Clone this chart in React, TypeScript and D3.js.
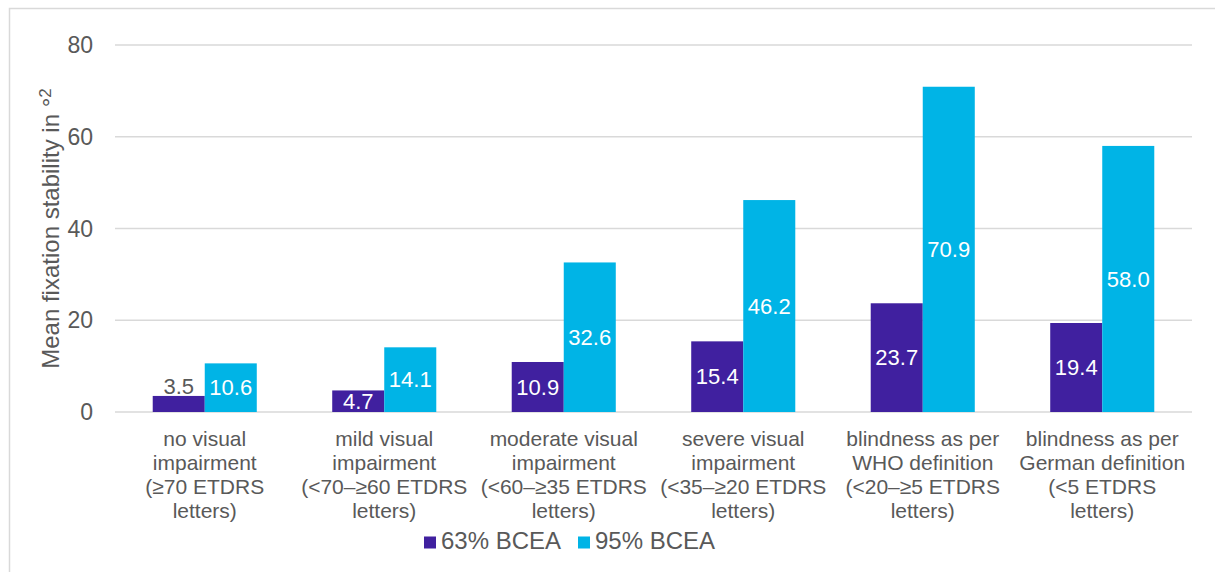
import React from "react";
import * as d3 from "d3";

const categories: string[][] = [
  ["no visual", "impairment", "(≥70 ETDRS", "letters)"],
  ["mild visual", "impairment", "(<70–≥60 ETDRS", "letters)"],
  ["moderate visual", "impairment", "(<60–≥35 ETDRS", "letters)"],
  ["severe visual", "impairment", "(<35–≥20 ETDRS", "letters)"],
  ["blindness as per", "WHO definition", "(<20–≥5 ETDRS", "letters)"],
  ["blindness as per", "German definition", "(<5 ETDRS", "letters)"],
];
const bcea63: number[] = [3.5, 4.7, 10.9, 15.4, 23.7, 19.4];
const bcea95: number[] = [10.6, 14.1, 32.6, 46.2, 70.9, 58.0];
const seriesNames: string[] = ["63% BCEA", "95% BCEA"];
const yTicks: number[] = [0, 20, 40, 60, 80];

const W = 1215;
const H = 572;
const FONT = "'Liberation Sans', Arial, sans-serif";
const TEXT = "#595959";
const GRID = "#D9D9D9";
const COLORS = ["#40209F", "#00B4E6"];

export default function App() {
  const left = 115;
  const right = 1192;
  const top = 45;
  const bottom = 412;

  const x = d3
    .scaleBand<number>()
    .domain(categories.map((_, i) => i))
    .range([left, right])
    .paddingInner(0)
    .paddingOuter(0);
  const y = d3.scaleLinear().domain([0, 80]).range([bottom, top]);

  const bw = x.bandwidth();
  const barW = bw / (2 + 1.45);
  const series = [bcea63, bcea95];

  return (
    <svg
      width={W}
      height={H}
      style={{ position: "absolute", left: 0, top: 0, background: "#fff" }}
      fontFamily={FONT}
    >
      <rect x={9.5} y={8.5} width={W + 10} height={H + 10} fill="#fff" stroke={GRID} strokeWidth={1.5} />

      {yTicks.map((t) => (
        <g key={t}>
          <line x1={left} x2={right} y1={y(t)} y2={y(t)} stroke={GRID} strokeWidth={1.5} />
          <text x={93} y={y(t)} dy="0.35em" textAnchor="end" fontSize={23} fill={TEXT}>
            {t}
          </text>
        </g>
      ))}

      <text
        transform={`translate(59, ${(top + bottom) / 2}) rotate(-90)`}
        textAnchor="middle"
        fontSize={24}
        fill={TEXT}
      >
        Mean fixation stability in °<tspan dy={-8} fontSize={17}>2</tspan>
      </text>

      {categories.map((_, i) => {
        const c = (x(i) as number) + bw / 2;
        return series.map((vals, s) => {
          const v = vals[i];
          const bx = c - barW + s * barW;
          const by = y(v);
          const h = y(0) - by;
          const inside = h >= 19;
          return (
            <g key={`${i}-${s}`}>
              <rect x={bx} y={by} width={barW} height={h} fill={COLORS[s]} />
              <text
                x={bx + barW / 2}
                y={inside ? by + h / 2 : by - 2}
                dy={inside ? "0.35em" : "0"}
                textAnchor="middle"
                fontSize={22}
                fill={inside ? "#fff" : TEXT}
              >
                {v.toFixed(1)}
              </text>
            </g>
          );
        });
      })}

      {categories.map((lines, i) => {
        const c = (x(i) as number) + bw / 2;
        return (
          <text key={i} textAnchor="middle" fontSize={21} fill={TEXT}>
            {lines.map((ln, k) => (
              <tspan key={k} x={c} y={446 + k * 24}>
                {ln}
              </tspan>
            ))}
          </text>
        );
      })}

      {seriesNames.map((name, s) => {
        const lx = s === 0 ? 424 : 578;
        return (
          <g key={name}>
            <rect x={lx} y={536.5} width={12} height={12} fill={COLORS[s]} />
            <text x={lx + 17} y={549} fontSize={24} fill={TEXT}>
              {name}
            </text>
          </g>
        );
      })}
    </svg>
  );
}
